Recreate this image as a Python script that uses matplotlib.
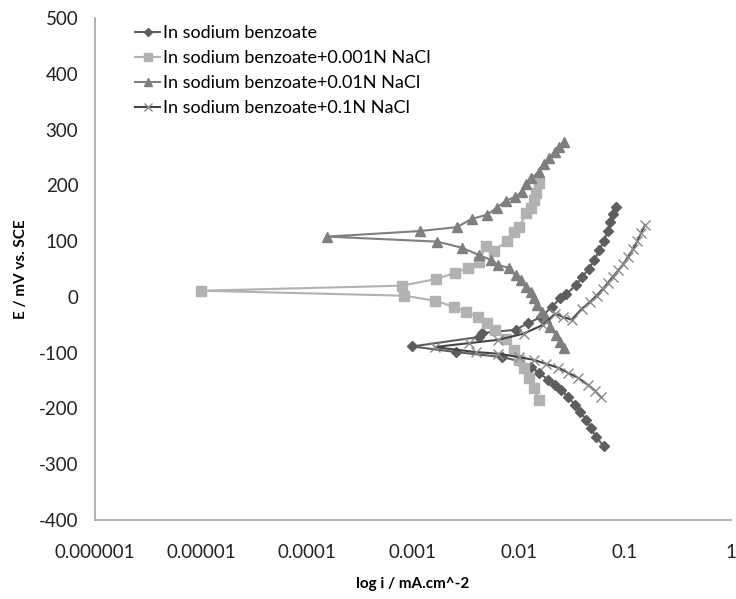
import matplotlib.pyplot as plt

plt.rcParams['font.family'] = ['Lato', 'DejaVu Sans']
plt.rcParams['axes.unicode_minus'] = False

# sodium benzoate (diamonds): cathodic end -> corrosion point -> anodic end
i_benz = [0.063, 0.053, 0.048, 0.043, 0.038, 0.034, 0.029, 0.025, 0.022, 0.019,
          0.0154, 0.0129, 0.0100, 0.0069, 0.00256, 0.00098,
          0.0042, 0.0045, 0.0093, 0.0123, 0.0162, 0.0205, 0.0247, 0.028, 0.0347,
          0.0396, 0.0455, 0.0516, 0.0575, 0.063, 0.069, 0.073, 0.078, 0.083]
E_benz = [-267, -251, -235, -220, -206, -194, -179, -167, -158, -149,
          -136, -125, -115, -108, -99, -89,
          -72, -65, -59, -47, -36, -18, -2, 5, 21,
          36, 50, 66, 84, 100, 118, 134, 149, 161]

# + 0.001N NaCl (squares)
i_001 = [0.0155, 0.0138, 0.0124, 0.0111, 0.0100, 0.0089, 0.0075, 0.0060, 0.0050,
         0.0041, 0.0032, 0.00245, 0.00162, 0.00083, 0.00001,
         0.00079, 0.00166, 0.0025, 0.0033, 0.0042, 0.0049, 0.0058, 0.0077, 0.0089,
         0.0100, 0.0118, 0.0129, 0.0138, 0.0145, 0.0155]
E_001 = [-185, -163, -145, -127, -113, -95, -75, -59, -47,
         -36, -27, -18, -7, 2, 11,
         20, 32, 43, 52, 63, 91, 82, 100, 117,
         125, 150, 160, 174, 186, 204]

# + 0.01N NaCl (triangles)
i_01 = [0.0264, 0.0243, 0.0222, 0.0198, 0.0182, 0.0164, 0.0148, 0.0138, 0.0129,
        0.0116, 0.0104, 0.0093, 0.0080, 0.0064, 0.0055, 0.0042, 0.0029, 0.0017,
        0.000155,
        0.00117, 0.0026, 0.0036, 0.0050, 0.0062, 0.0075, 0.0091, 0.0107, 0.0118,
        0.0131, 0.0154, 0.0171, 0.0194, 0.0217, 0.024, 0.0267]
E_01 = [-91, -81, -68, -54, -38, -27, -14, -2, 9,
        18, 30, 39, 52, 57, 66, 75, 88, 99,
        108,
        118, 125, 140, 147, 160, 172, 179, 188, 203,
        213, 224, 238, 249, 260, 269, 278]

# + 0.1N NaCl (crosses)
i_1 = [0.059, 0.052, 0.045, 0.036, 0.029, 0.0234, 0.018, 0.0138, 0.0100, 0.0064,
       0.0039, 0.0016,
       0.0034, 0.0064, 0.0111, 0.017, 0.022, 0.026, 0.0316, 0.039, 0.047, 0.054,
       0.062, 0.069, 0.077, 0.087, 0.097, 0.107, 0.12, 0.131, 0.143, 0.155]
E_1 = [-179, -168, -158, -145, -136, -127, -120, -113, -108, -102,
       -99, -90,
       -83, -77, -66, -50, -30, -36, -41, -22, -9, 2,
       14, 25, 36, 48, 59, 72, 86, 100, 115, 129]

labels = ['In sodium benzoate', 'In sodium benzoate+0.001N NaCl',
          'In sodium benzoate+0.01N NaCl', 'In sodium benzoate+0.1N NaCl']

fig = plt.figure(figsize=(7.36, 5.99), dpi=100)
ax = fig.add_axes([0.129, 0.132, 0.864, 0.838])

ax.plot(i_benz, E_benz, color='#5e5e5e', lw=1.5, marker='D', ms=5,
        mec='#5e5e5e', label=labels[0])
ax.plot(i_001, E_001, color='#b2b2b2', lw=1.5, marker='s', ms=7,
        mec='#b2b2b2', label=labels[1])
ax.plot(i_01, E_01, color='#7f7f7f', lw=1.5, marker='^', ms=7,
        mec='#7f7f7f', label=labels[2])
ax.plot(i_1, E_1, color='#444444', lw=1.5, marker='x', ms=7, mew=1,
        mec='#8a8a8a', label=labels[3])

ax.set_xscale('log')
ax.set_xlim(1e-6, 1)
ax.set_ylim(-400, 500)
ax.set_yticks(range(-400, 501, 100))
xt = [1e-6, 1e-5, 1e-4, 1e-3, 1e-2, 1e-1, 1]
ax.set_xticks(xt)
ax.set_xticklabels(['0.000001', '0.00001', '0.0001', '0.001', '0.01', '0.1', '1'])
ax.minorticks_off()
ax.tick_params(length=0, labelsize=13.5, colors='#222222')
ax.tick_params(axis='x', pad=17)
ax.tick_params(axis='y', pad=12)

for s in ['top', 'right']:
    ax.spines[s].set_visible(False)
for s in ['left', 'bottom']:
    ax.spines[s].set_color('#a6a6a6')
    ax.spines[s].set_linewidth(1.2)

ax.set_xlabel('log i / mA.cm^-2', fontsize=11, fontweight='bold', labelpad=12)
ax.set_ylabel('E / mV vs. SCE', fontsize=11, fontweight='bold', labelpad=8)

ax.legend(loc='upper left', bbox_to_anchor=(0.063, 0.986), frameon=False,
          borderpad=0, borderaxespad=0,
          fontsize=13, handlelength=1.4, handletextpad=0.17, labelspacing=0.5,
          markerscale=0.75)

fig.savefig('out.png', dpi=100)
